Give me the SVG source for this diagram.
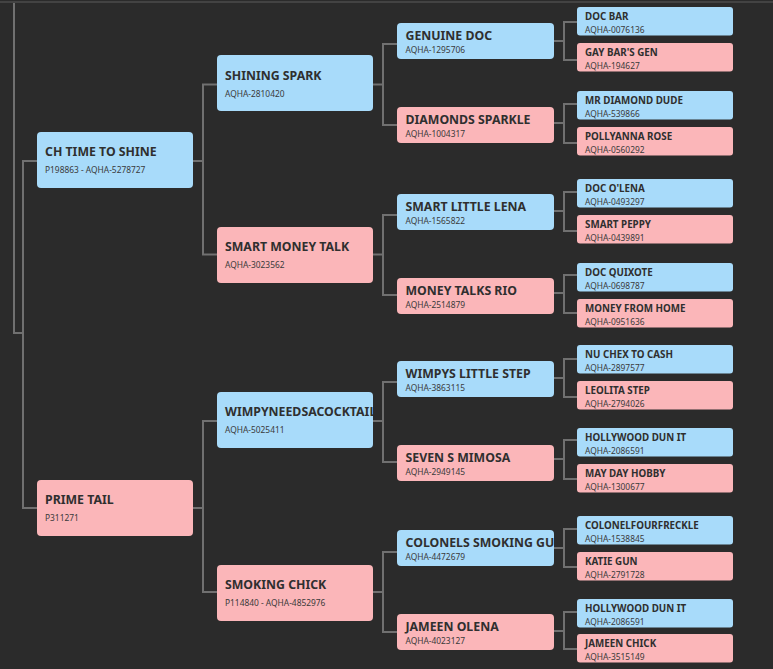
<svg xmlns="http://www.w3.org/2000/svg" width="773" height="669" viewBox="0 0 773 669">
<style>
.bg{fill:#2b2b2b}
.m{fill:#a8dbfa}
.f{fill:#fbb6b9}
.t1{font-family:"Noto Sans","Open Sans","DejaVu Sans",sans-serif;font-weight:700;font-size:12.3px;fill:#2f2f2f}
.t4{font-family:"Noto Sans","Open Sans","DejaVu Sans",sans-serif;font-weight:700;font-size:9.8px;fill:#2f2f2f}
.s{font-family:"Noto Sans","Open Sans","DejaVu Sans",sans-serif;font-weight:400;font-size:8.4px;fill:#3a3a3a}
.c{fill:none;stroke:#707070;stroke-width:2}
</style>
<defs>
<clipPath id="clipWimpy"><rect x="217" y="392" width="156" height="56"/></clipPath>
<clipPath id="clipColonels"><rect x="397" y="530" width="157" height="36"/></clipPath>
</defs>
<rect class="bg" x="0" y="0" width="773" height="669"/>
<line x1="0" y1="2" x2="773" y2="2" stroke="#4c4c4c" stroke-width="1.5"/>
<g id="connectors">
<path class="c" d="M14,3 V333 H23"/>
<path class="c" d="M37,161 H23 V508 H37"/>
<path class="c" d="M193,161 H203 M217,84.5 H203 V254.5 H217"/>
<path class="c" d="M193,508 H203 M217,421 H203 V592 H217"/>
<path class="c" d="M373,84.5 H383 M397,44 H383 V125 H397"/>
<path class="c" d="M373,254.5 H383 M397,215 H383 V295 H397"/>
<path class="c" d="M373,421 H383 M397,382 H383 V462 H397"/>
<path class="c" d="M373,592 H383 M397,552 H383 V632 H397"/>
<path class="c" d="M554,41 H564 M577,22 H564 V60 H577"/>
<path class="c" d="M554,123 H564 M577,104 H564 V143 H577"/>
<path class="c" d="M554,211 H564 M577,192 H564 V231 H577"/>
<path class="c" d="M554,293 H564 M577,275 H564 V313 H577"/>
<path class="c" d="M554,378 H564 M577,359 H564 V397 H577"/>
<path class="c" d="M554,459 H564 M577,440 H564 V479 H577"/>
<path class="c" d="M554,548 H564 M577,529 H564 V567 H577"/>
<path class="c" d="M554,631 H564 M577,612 H564 V649 H577"/>
</g>
<!-- Generation 1 -->
<g id="ch-time-to-shine"><rect class="m" x="37" y="132" width="156" height="56" rx="4"/><text class="t1" x="45" y="156">CH TIME TO SHINE</text><text class="s" x="45" y="173">P198863 - AQHA-5278727</text></g>
<g id="prime-tail"><rect class="f" x="37" y="480" width="156" height="56" rx="4"/><text class="t1" x="45" y="504">PRIME TAIL</text><text class="s" x="45" y="521">P311271</text></g>
<!-- Generation 2 -->
<g id="shining-spark"><rect class="m" x="217" y="55" width="156" height="56" rx="4"/><text class="t1" x="225" y="80">SHINING SPARK</text><text class="s" x="225" y="97">AQHA-2810420</text></g>
<g id="smart-money-talk"><rect class="f" x="217" y="227" width="156" height="56" rx="4"/><text class="t1" x="225" y="251">SMART MONEY TALK</text><text class="s" x="225" y="268">AQHA-3023562</text></g>
<g id="wimpyneedsacocktail"><rect class="m" x="217" y="392" width="156" height="56" rx="4"/><text class="t1" x="225" y="416" clip-path="url(#clipWimpy)">WIMPYNEEDSACOCKTAIL</text><text class="s" x="225" y="433">AQHA-5025411</text></g>
<g id="smoking-chick"><rect class="f" x="217" y="565" width="156" height="56" rx="4"/><text class="t1" x="225" y="589">SMOKING CHICK</text><text class="s" x="225" y="606">P114840 - AQHA-4852976</text></g>
<!-- Generation 3 -->
<g id="genuine-doc"><rect class="m" x="397" y="23" width="157" height="36" rx="4"/><text class="t1" x="405.5" y="39.5">GENUINE DOC</text><text class="s" x="405.5" y="52.5">AQHA-1295706</text></g>
<g id="diamonds-sparkle"><rect class="f" x="397" y="107" width="157" height="36" rx="4"/><text class="t1" x="405.5" y="123.5">DIAMONDS SPARKLE</text><text class="s" x="405.5" y="136.5">AQHA-1004317</text></g>
<g id="smart-little-lena"><rect class="m" x="397" y="194" width="157" height="36" rx="4"/><text class="t1" x="405.5" y="210.5">SMART LITTLE LENA</text><text class="s" x="405.5" y="223.5">AQHA-1565822</text></g>
<g id="money-talks-rio"><rect class="f" x="397" y="278" width="157" height="36" rx="4"/><text class="t1" x="405.5" y="294.5">MONEY TALKS RIO</text><text class="s" x="405.5" y="307.5">AQHA-2514879</text></g>
<g id="wimpys-little-step"><rect class="m" x="397" y="361" width="157" height="36" rx="4"/><text class="t1" x="405.5" y="377.5">WIMPYS LITTLE STEP</text><text class="s" x="405.5" y="390.5">AQHA-3863115</text></g>
<g id="seven-s-mimosa"><rect class="f" x="397" y="445" width="157" height="36" rx="4"/><text class="t1" x="405.5" y="461.5">SEVEN S MIMOSA</text><text class="s" x="405.5" y="474.5">AQHA-2949145</text></g>
<g id="colonels-smoking-gun"><rect class="m" x="397" y="530" width="157" height="36" rx="4"/><text class="t1" x="405.5" y="546.5" clip-path="url(#clipColonels)">COLONELS SMOKING GUN</text><text class="s" x="405.5" y="559.5">AQHA-4472679</text></g>
<g id="jameen-olena"><rect class="f" x="397" y="614" width="157" height="36" rx="4"/><text class="t1" x="405.5" y="630.5">JAMEEN OLENA</text><text class="s" x="405.5" y="643.5">AQHA-4023127</text></g>
<!-- Generation 4 -->
<g id="doc-bar"><rect class="m" x="577" y="7" width="156" height="28.5" rx="3"/><text class="t4" x="585" y="20">DOC BAR</text><text class="s" x="585" y="32.5">AQHA-0076136</text></g>
<g id="gay-bars-gen"><rect class="f" x="577" y="43" width="156" height="28.5" rx="3"/><text class="t4" x="585" y="56">GAY BAR'S GEN</text><text class="s" x="585" y="68.5">AQHA-194627</text></g>
<g id="mr-diamond-dude"><rect class="m" x="577" y="91" width="156" height="28.5" rx="3"/><text class="t4" x="585" y="104">MR DIAMOND DUDE</text><text class="s" x="585" y="116.5">AQHA-539866</text></g>
<g id="pollyanna-rose"><rect class="f" x="577" y="127" width="156" height="28.5" rx="3"/><text class="t4" x="585" y="140">POLLYANNA ROSE</text><text class="s" x="585" y="152.5">AQHA-0560292</text></g>
<g id="doc-olena"><rect class="m" x="577" y="179" width="156" height="28.5" rx="3"/><text class="t4" x="585" y="192">DOC O'LENA</text><text class="s" x="585" y="204.5">AQHA-0493297</text></g>
<g id="smart-peppy"><rect class="f" x="577" y="215" width="156" height="28.5" rx="3"/><text class="t4" x="585" y="228">SMART PEPPY</text><text class="s" x="585" y="240.5">AQHA-0439891</text></g>
<g id="doc-quixote"><rect class="m" x="577" y="263" width="156" height="28.5" rx="3"/><text class="t4" x="585" y="276">DOC QUIXOTE</text><text class="s" x="585" y="288.5">AQHA-0698787</text></g>
<g id="money-from-home"><rect class="f" x="577" y="299" width="156" height="28.5" rx="3"/><text class="t4" x="585" y="312">MONEY FROM HOME</text><text class="s" x="585" y="324.5">AQHA-0951636</text></g>
<g id="nu-chex-to-cash"><rect class="m" x="577" y="345" width="156" height="28.5" rx="3"/><text class="t4" x="585" y="358">NU CHEX TO CASH</text><text class="s" x="585" y="370.5">AQHA-2897577</text></g>
<g id="leolita-step"><rect class="f" x="577" y="381" width="156" height="28.5" rx="3"/><text class="t4" x="585" y="394">LEOLITA STEP</text><text class="s" x="585" y="406.5">AQHA-2794026</text></g>
<g id="hollywood-dun-it-1"><rect class="m" x="577" y="428" width="156" height="28.5" rx="3"/><text class="t4" x="585" y="441">HOLLYWOOD DUN IT</text><text class="s" x="585" y="453.5">AQHA-2086591</text></g>
<g id="may-day-hobby"><rect class="f" x="577" y="464" width="156" height="28.5" rx="3"/><text class="t4" x="585" y="477">MAY DAY HOBBY</text><text class="s" x="585" y="489.5">AQHA-1300677</text></g>
<g id="colonelfourfreckle"><rect class="m" x="577" y="516" width="156" height="28.5" rx="3"/><text class="t4" x="585" y="529">COLONELFOURFRECKLE</text><text class="s" x="585" y="541.5">AQHA-1538845</text></g>
<g id="katie-gun"><rect class="f" x="577" y="552" width="156" height="28.5" rx="3"/><text class="t4" x="585" y="565">KATIE GUN</text><text class="s" x="585" y="577.5">AQHA-2791728</text></g>
<g id="hollywood-dun-it-2"><rect class="m" x="577" y="599" width="156" height="28.5" rx="3"/><text class="t4" x="585" y="612">HOLLYWOOD DUN IT</text><text class="s" x="585" y="624.5">AQHA-2086591</text></g>
<g id="jameen-chick"><rect class="f" x="577" y="634" width="156" height="28.5" rx="3"/><text class="t4" x="585" y="647">JAMEEN CHICK</text><text class="s" x="585" y="659.5">AQHA-3515149</text></g>
</svg>
